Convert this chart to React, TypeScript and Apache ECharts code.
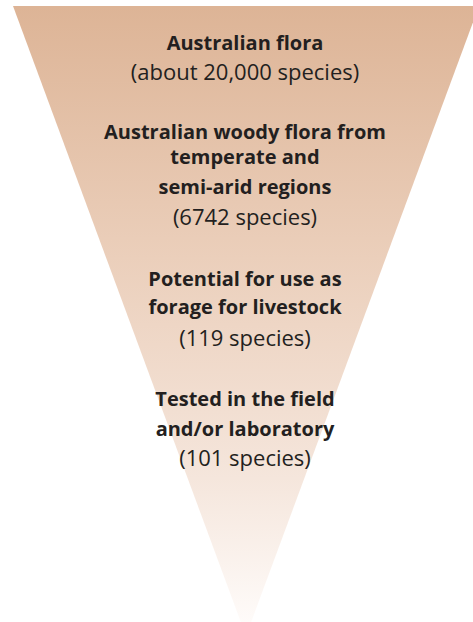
import React, { useEffect, useRef } from "react";
import * as echarts from "echarts";

// ---- data ----
const stageTitles: string[] = [
  "Australian flora",
  "Australian woody flora from\ntemperate and\nsemi-arid regions",
  "Potential for use as\nforage for livestock",
  "Tested in the field\nand/or laboratory",
];
const speciesCounts: string[] = ["about 20,000", "6742", "119", "101"];
const funnelValue: number[] = [20000];

// ---- layout (not data) ----
const lineCenters: number[] = [42, 71, 131, 156, 186, 216, 278, 306, 337, 398, 428, 457];
const TEXT_X = 245;
const FONT = "'Open Sans', 'Noto Sans', sans-serif";

export default function App() {
  const ref = useRef<HTMLDivElement | null>(null);

  useEffect(() => {
    if (!ref.current) return;
    const chart = echarts.init(ref.current, undefined, { renderer: "svg" });

    const lines: { text: string; bold: boolean }[] = [];
    stageTitles.forEach((t, i) => {
      t.split("\n").forEach((l) => lines.push({ text: l, bold: true }));
      lines.push({ text: `(${speciesCounts[i]} species)`, bold: false });
    });

    const graphic = lines.map((l, i) => ({
      type: "text",
      x: TEXT_X,
      y: lineCenters[i],
      z: 10,
      silent: true,
      style: {
        text: l.text,
        fill: "#231F20",
        fontFamily: FONT,
        fontSize: l.bold ? 20 : 22,
        fontWeight: l.bold ? "bold" : "normal",
        align: "center",
        verticalAlign: "middle",
      },
    }));

    chart.setOption({
      animation: false,
      backgroundColor: "#ffffff",
      series: [
        {
          type: "funnel",
          left: 13,
          top: 6,
          width: 466,
          height: 630,
          min: 0,
          minSize: "0%",
          maxSize: "100%",
          sort: "none",
          gap: 0,
          silent: true,
          label: { show: false },
          labelLine: { show: false },
          itemStyle: {
            borderWidth: 0,
            color: new echarts.graphic.LinearGradient(0, 0, 0, 1, [
              { offset: 0, color: "#DDB496" },
              { offset: 0.4, color: "#EBCFBB" },
              { offset: 0.75, color: "#F5E6DC" },
              { offset: 1, color: "#FFFDFC" },
            ]),
          },
          data: [{ name: stageTitles[0], value: funnelValue[0] }],
        },
      ],
      graphic,
    });

    return () => chart.dispose();
  }, []);

  return (
    <div
      ref={ref}
      style={{ position: "fixed", left: 0, top: 0, width: 473, height: 622 }}
    />
  );
}
